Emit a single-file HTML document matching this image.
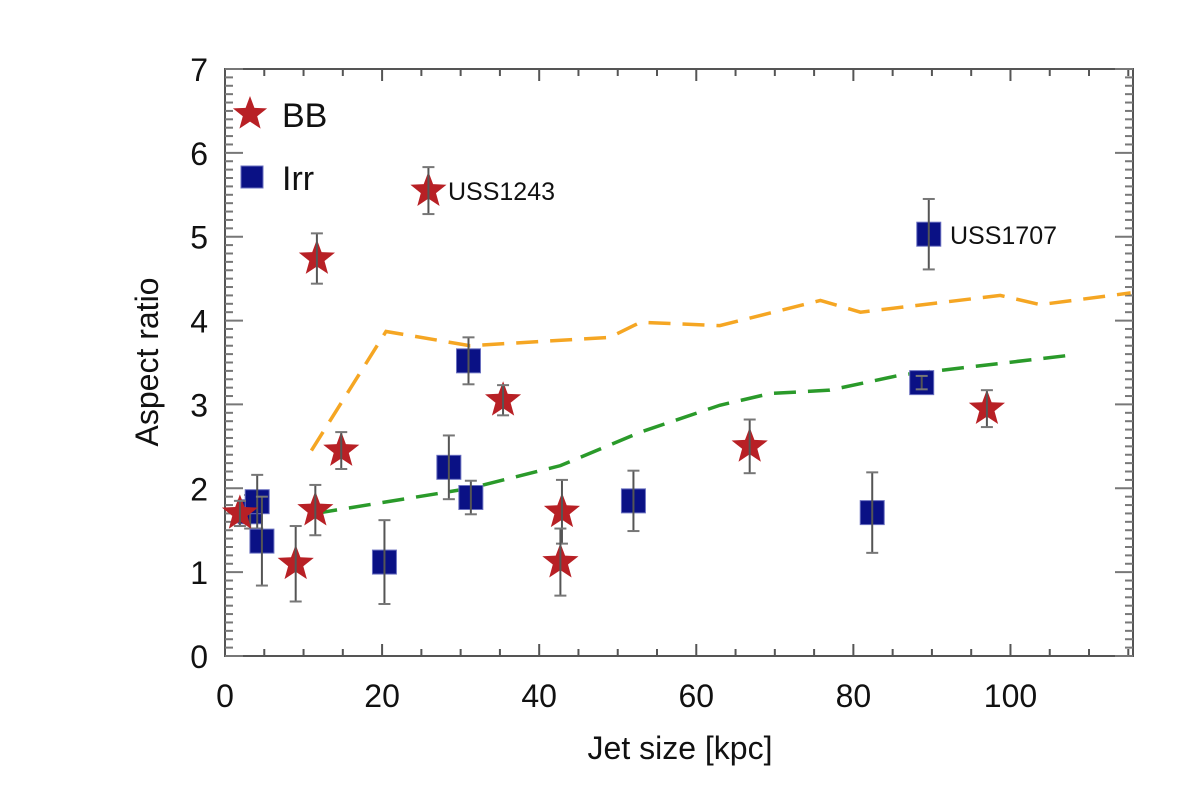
<!DOCTYPE html>
<html><head><meta charset="utf-8"><style>
body{margin:0;background:#fff;}
svg{display:block;font-family:"Liberation Sans",sans-serif;}
</style></head><body>
<svg id="chart" width="1200" height="797"></svg>
<script>
const xTicks=[0,20,40,60,80,100];
const yTicks=[0,1,2,3,4,5,6,7];
const bbX=[1.9,11.7,25.9,14.8,11.5,9.0,35.4,42.9,42.7,66.8,97];
const bbY=[1.70,4.74,5.55,2.45,1.74,1.1,3.05,1.72,1.12,2.5,2.95];
const bbErr=[0.15,0.3,0.28,0.22,0.3,0.45,0.18,0.38,0.4,0.32,0.22];
const irrX=[3.2,4.1,4.7,20.3,28.5,31,31.3,52,82.4,88.7,89.6];
const irrY=[1.72,1.84,1.37,1.12,2.25,3.52,1.89,1.85,1.71,3.26,5.03];
const irrErr=[0.2,0.32,0.53,0.5,0.38,0.28,0.2,0.36,0.48,0.08,0.42];
const orangeX=[11,20.5,31.2,49,52.9,63,75.8,80.9,98.7,103.8,115.3];
const orangeY=[2.45,3.87,3.7,3.8,3.98,3.94,4.24,4.1,4.3,4.19,4.33];
const greenX=[11.5,31.2,42.7,52.9,63,69.4,77,86,107];
const greenY=[1.70,2.0,2.27,2.67,2.99,3.13,3.17,3.35,3.58];

const NS="http://www.w3.org/2000/svg";
const svg=document.getElementById('chart');
const L=225,R=1133,T=69,B=656,XMAX=115.6,YMAX=7;
const sx=v=>L+v/XMAX*(R-L);
const sy=v=>B-v/YMAX*(B-T);
function mk(tag,attrs,parent){const e=document.createElementNS(NS,tag);for(const k in attrs)e.setAttribute(k,attrs[k]);(parent||svg).appendChild(e);return e;}

const frame=mk('rect',{x:L,y:T,width:R-L,height:B-T,fill:'none',stroke:'#555','stroke-width':2});


for(let v=0;v<=XMAX;v+=5){
  const big=v%20===0;const len=big?12:7;
  mk('line',{x1:sx(v),x2:sx(v),y1:B,y2:B-len,stroke:'#555','stroke-width':2});
  mk('line',{x1:sx(v),x2:sx(v),y1:T,y2:T+len,stroke:'#555','stroke-width':2});
}
for(let i=0;i<=70;i++){
  const v=i/10;const big=i%10===0;const len=big?18:8;
  mk('line',{x1:L,x2:L+len,y1:sy(v),y2:sy(v),stroke:'#777','stroke-width':2});
  mk('line',{x1:R,x2:R-len,y1:sy(v),y2:sy(v),stroke:'#777','stroke-width':2});
}
xTicks.forEach(v=>{const t=mk('text',{x:sx(v),y:707,'font-size':32,'text-anchor':'middle',fill:'#111'});t.textContent=v;

});
yTicks.forEach(v=>{const t=mk('text',{x:208,y:sy(v)+12,'font-size':32,'text-anchor':'end',fill:'#111'});t.textContent=v;

});
const xt=mk('text',{x:680,y:759,'font-size':32,'text-anchor':'middle',fill:'#111'});xt.textContent='Jet size [kpc]';


const yt=mk('text',{x:0,y:0,'font-size':32,'text-anchor':'middle',fill:'#111',transform:'translate(158,362) rotate(-90)'});yt.textContent='Aspect ratio';



function dash(xs,ys,color,name){
  const p=mk('polyline',{points:xs.map((x,i)=>sx(x)+','+sy(ys[i])).join(' '),fill:'none',stroke:color,'stroke-width':3.5,'stroke-dasharray':'22,12'});
  
  
}
dash(orangeX,orangeY,'#f5a623','orange-dashed-line');
dash(greenX,greenY,'#2a9a2a','green-dashed-line');

function errbar(x,y,e){
  const X=sx(x);
  mk('line',{x1:X,x2:X,y1:sy(y-e),y2:sy(y+e),stroke:'#555','stroke-width':2});
  mk('line',{x1:X-6,x2:X+6,y1:sy(y-e),y2:sy(y-e),stroke:'#777','stroke-width':2});
  mk('line',{x1:X-6,x2:X+6,y1:sy(y+e),y2:sy(y+e),stroke:'#777','stroke-width':2});
}
function starPts(cx,cy,r){let p=[];for(let i=0;i<10;i++){const a=-Math.PI/2+i*Math.PI/5;const rr=i%2?r*0.42:r;p.push((cx+rr*Math.cos(a)).toFixed(1)+','+(cy+rr*Math.sin(a)).toFixed(1));}return p.join(' ');}
irrX.forEach((x,i)=>{
  const s=mk('rect',{x:sx(x)-12,y:sy(irrY[i])-12,width:24,height:24,fill:'#0a1185',stroke:'#6a70c0','stroke-width':1});
  
  
  errbar(x,irrY[i],irrErr[i]);
});
bbX.forEach((x,i)=>{
  const s=mk('polygon',{points:starPts(sx(x),sy(bbY[i]),19),fill:'#b82025'});
  
  
  errbar(x,bbY[i],bbErr[i]);
});
const l1=mk('text',{x:448,y:200,'font-size':25,fill:'#111'});l1.textContent='USS1243';


const l2=mk('text',{x:950,y:244,'font-size':25,fill:'#111'});l2.textContent='USS1707';


const ls=mk('polygon',{points:starPts(250,114,18),fill:'#b82025'});


const lt1=mk('text',{x:282,y:127,'font-size':34,fill:'#111'});lt1.textContent='BB';


const lq=mk('rect',{x:241,y:166,width:22,height:22,fill:'#0a1185',stroke:'#6a70c0'});


const lt2=mk('text',{x:282,y:190,'font-size':34,fill:'#111'});lt2.textContent='Irr';


</script>
</body></html>
